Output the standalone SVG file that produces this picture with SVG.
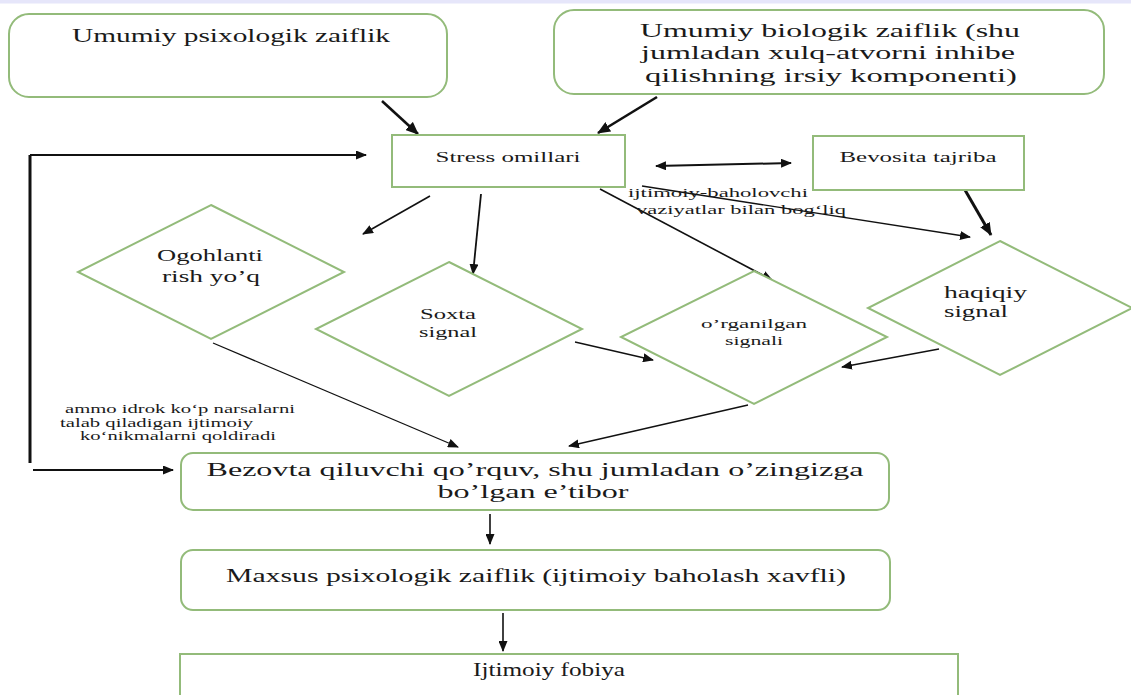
<svg xmlns="http://www.w3.org/2000/svg" width="1131" height="695" viewBox="0 0 1131 695">
<style>
.box{fill:#ffffff;stroke:#93bb7a;stroke-width:2}
.t{font-family:"Liberation Serif","Times New Roman",serif;fill:#1a1a1a}
.c{stroke:#111;fill:none}
</style>
<defs>
<marker id="ah" markerUnits="userSpaceOnUse" markerWidth="11" markerHeight="9" refX="10" refY="4.5" orient="auto"><path d="M0,0 L11,4.5 L0,9 z" fill="#111"/></marker>
<marker id="ahs" markerUnits="userSpaceOnUse" markerWidth="11" markerHeight="9" refX="10" refY="4.5" orient="auto-start-reverse"><path d="M0,0 L11,4.5 L0,9 z" fill="#111"/></marker>
<marker id="ahb" markerUnits="userSpaceOnUse" markerWidth="13" markerHeight="11" refX="12" refY="5.5" orient="auto"><path d="M0,0 L13,5.5 L0,11 z" fill="#111"/></marker>
</defs>
<rect x="0" y="0" width="1131" height="695" fill="#ffffff"/>
<rect x="0" y="0" width="1131" height="3.5" fill="#e6e6fa"/>

<g id="connectors">
<line class="c" x1="382" y1="101" x2="418" y2="134" stroke-width="2.6" marker-end="url(#ahb)"/>
<line class="c" x1="657" y1="97" x2="598" y2="133" stroke-width="2.6" marker-end="url(#ahb)"/>
<line class="c" x1="656" y1="166" x2="791" y2="163" stroke-width="2" marker-start="url(#ahs)" marker-end="url(#ahs)"/>
<line class="c" x1="965" y1="190" x2="991" y2="235" stroke-width="3" marker-end="url(#ahb)"/>
<line class="c" x1="642" y1="186" x2="970" y2="237" stroke-width="1.3" marker-end="url(#ah)"/>
<line class="c" x1="600" y1="189" x2="772" y2="280" stroke-width="1.6" marker-end="url(#ah)"/>
<line class="c" x1="430" y1="196" x2="363" y2="234" stroke-width="1.6" marker-end="url(#ah)"/>
<line class="c" x1="481" y1="194" x2="473" y2="274" stroke-width="1.8" marker-end="url(#ah)"/>
<line class="c" x1="575" y1="342" x2="653" y2="360" stroke-width="1.3" marker-end="url(#ah)"/>
<line class="c" x1="939" y1="349" x2="842" y2="367" stroke-width="1.3" marker-end="url(#ah)"/>
<line class="c" x1="748" y1="405" x2="569" y2="446" stroke-width="1.3" marker-end="url(#ah)"/>
<line class="c" x1="213" y1="343" x2="458" y2="447" stroke-width="1.3" marker-end="url(#ah)"/>
<line class="c" x1="30" y1="155" x2="30" y2="463" stroke-width="3"/>
<line class="c" x1="30" y1="155" x2="366" y2="155" stroke-width="2" marker-end="url(#ah)"/>
<line class="c" x1="33" y1="470" x2="173" y2="470" stroke-width="2" marker-end="url(#ah)"/>
<line class="c" x1="490" y1="514" x2="490" y2="544" stroke-width="1.6" marker-end="url(#ah)"/>
<line class="c" x1="503" y1="613" x2="503" y2="651" stroke-width="1.6" marker-end="url(#ah)"/>
</g>

<g id="n-psix">
<rect class="box" x="9" y="14" width="438" height="83" rx="20"/>
<text class="t" x="231" y="42" font-size="18" text-anchor="middle" textLength="318" lengthAdjust="spacingAndGlyphs">Umumiy psixologik zaiflik</text>
</g>

<g id="n-bio">
<rect class="box" x="554" y="10" width="550" height="84" rx="20"/>
<text class="t" x="830" y="37" font-size="18" text-anchor="middle" textLength="380" lengthAdjust="spacingAndGlyphs">Umumiy biologik zaiflik (shu</text>
<text class="t" x="828" y="59" font-size="18" text-anchor="middle" textLength="374" lengthAdjust="spacingAndGlyphs">jumladan xulq-atvorni inhibe</text>
<text class="t" x="831" y="82" font-size="18" text-anchor="middle" textLength="372" lengthAdjust="spacingAndGlyphs">qilishning irsiy komponenti)</text>
</g>

<g id="n-stress">
<rect class="box" x="392" y="135" width="233" height="52"/>
<text class="t" x="508" y="162" font-size="15" text-anchor="middle" textLength="145" lengthAdjust="spacingAndGlyphs">Stress omillari</text>
</g>

<g id="n-bevosita">
<rect class="box" x="813" y="136" width="211" height="54"/>
<text class="t" x="918" y="162" font-size="15" text-anchor="middle" textLength="157" lengthAdjust="spacingAndGlyphs">Bevosita tajriba</text>
</g>

<g id="lbl-ijtimoiy">
<text class="t" x="628" y="197" font-size="13" textLength="180" lengthAdjust="spacingAndGlyphs">ijtimoiy-baholovchi</text>
<text class="t" x="636" y="214" font-size="13" textLength="210" lengthAdjust="spacingAndGlyphs">vaziyatlar bilan bog‘liq</text>
</g>

<g id="n-ogoh">
<polygon class="box" points="211,205 344,272 211,339 78,272"/>
<text class="t" x="210" y="261" font-size="16" text-anchor="middle" textLength="106" lengthAdjust="spacingAndGlyphs">Ogohlanti</text>
<text class="t" x="211" y="282" font-size="16" text-anchor="middle" textLength="98" lengthAdjust="spacingAndGlyphs">rish yo’q</text>
</g>

<g id="n-soxta">
<polygon class="box" points="449,262 582,329 449,396 316,329"/>
<text class="t" x="448" y="319" font-size="14" text-anchor="middle" textLength="56" lengthAdjust="spacingAndGlyphs">Soxta</text>
<text class="t" x="448" y="337" font-size="14" text-anchor="middle" textLength="58" lengthAdjust="spacingAndGlyphs">signal</text>
</g>

<g id="n-organ">
<polygon class="box" points="754,271 887,337 754,404 621,337"/>
<text class="t" x="754" y="328" font-size="13" text-anchor="middle" textLength="106" lengthAdjust="spacingAndGlyphs">o’rganilgan</text>
<text class="t" x="754" y="345" font-size="13" text-anchor="middle" textLength="58" lengthAdjust="spacingAndGlyphs">signali</text>
</g>

<g id="n-haqiqiy">
<polygon class="box" points="1000,241 1132,308 1000,375 868,308"/>
<text class="t" x="944" y="298" font-size="16" textLength="83" lengthAdjust="spacingAndGlyphs">haqiqiy</text>
<text class="t" x="944" y="317" font-size="16" textLength="64" lengthAdjust="spacingAndGlyphs">signal</text>
</g>

<g id="lbl-ammo">
<text class="t" x="65" y="413" font-size="12.5" textLength="230" lengthAdjust="spacingAndGlyphs">ammo idrok ko‘p narsalarni</text>
<text class="t" x="60" y="427" font-size="12.5" textLength="193" lengthAdjust="spacingAndGlyphs">talab qiladigan ijtimoiy</text>
<text class="t" x="80" y="440" font-size="12.5" textLength="196" lengthAdjust="spacingAndGlyphs">ko‘nikmalarni qoldiradi</text>
</g>

<g id="n-bezovta">
<rect class="box" x="181" y="453" width="708" height="57" rx="12"/>
<text class="t" x="535" y="476" font-size="19" text-anchor="middle" textLength="657" lengthAdjust="spacingAndGlyphs">Bezovta qiluvchi qo’rquv, shu jumladan o’zingizga</text>
<text class="t" x="533" y="498" font-size="19" text-anchor="middle" textLength="191" lengthAdjust="spacingAndGlyphs">bo’lgan e’tibor</text>
</g>

<g id="n-maxsus">
<rect class="box" x="181" y="550" width="709" height="60" rx="12"/>
<text class="t" x="536" y="582" font-size="18" text-anchor="middle" textLength="620" lengthAdjust="spacingAndGlyphs">Maxsus psixologik zaiflik (ijtimoiy baholash xavfli)</text>
</g>

<g id="n-fobiya">
<rect class="box" x="180" y="654" width="778" height="60" fill="#fefefa"/>
<text class="t" x="549" y="676" font-size="18" text-anchor="middle" textLength="152" lengthAdjust="spacingAndGlyphs">Ijtimoiy fobiya</text>
</g>
</svg>
